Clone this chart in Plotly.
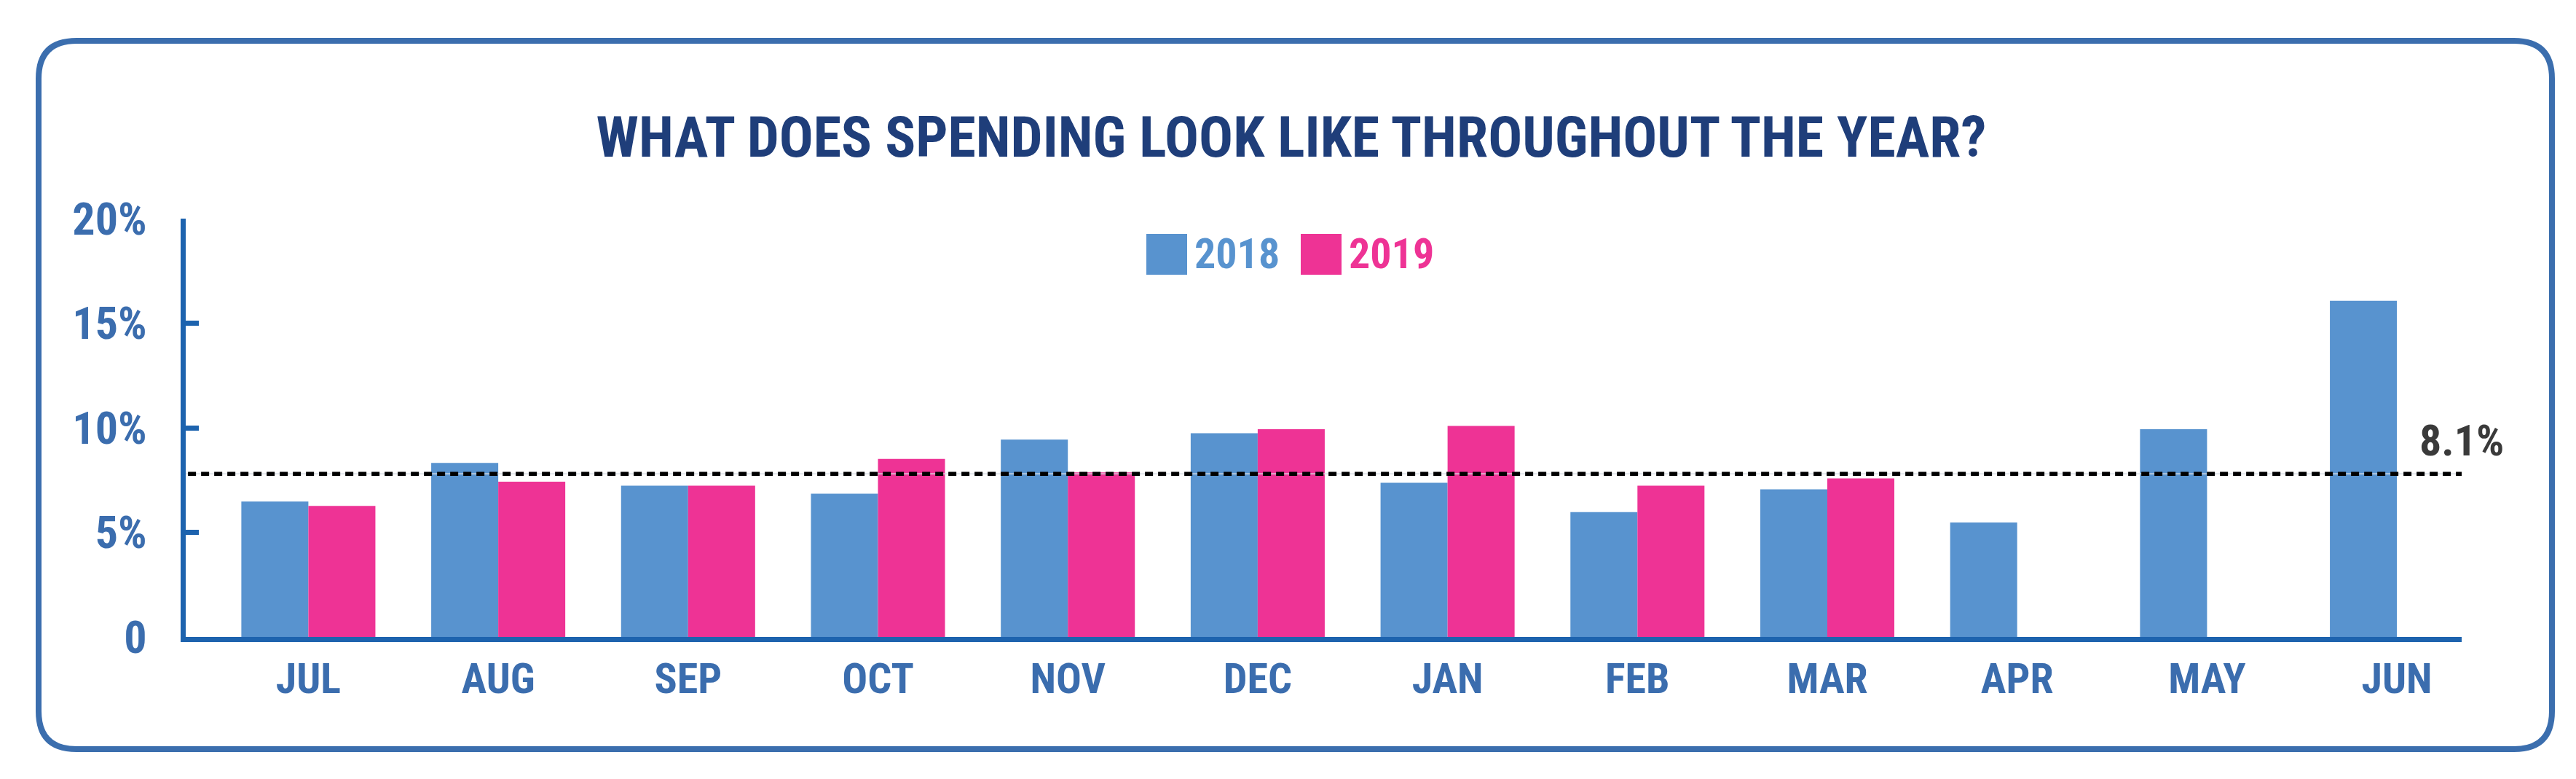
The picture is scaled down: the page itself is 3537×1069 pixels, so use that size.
import plotly.graph_objects as go

# ---------------- data ----------------
MONTHS = ["JUL", "AUG", "SEP", "OCT", "NOV", "DEC", "JAN", "FEB", "MAR", "APR", "MAY", "JUN"]
SPEND_2018 = [6.47, 8.32, 7.23, 6.85, 9.43, 9.74, 7.37, 5.97, 7.06, 5.47, 9.93, 16.07]
SPEND_2019 = [6.26, 7.42, 7.23, 8.51, 7.87, 9.93, 10.09, 7.23, 7.58, None, None, None]
SERIES_NAMES = ["2018", "2019"]
Y_TICK_VALUES = [0, 5, 10, 15, 20]
Y_TICK_LABELS = ["0", "5%", "10%", "15%", "20%"]
AVG_LINE = 7.8
AVG_LABEL = "8.1%"
TITLE = "WHAT DOES SPENDING LOOK LIKE THROUGHOUT THE YEAR?"

# ---------------- styles ----------------
W, H = 3537, 1069
C2018 = "#5893CF"
C2019 = "#EE3395"
AXIS_C = "#1D63AE"
TICK_C = "#3B6DAE"
TITLE_C = "#1F3E7A"
BOX_C = "#3B6EAE"
FONT = "Roboto Condensed, DejaVu Sans Condensed, Arial Narrow, sans-serif"

L, R, T, B = 247, 3372, 292, 866  # plot area in pixels


def px(x):
    return (x - L) / (R - L)


def py(y):
    return (B - y) / (B - T)


fig = go.Figure()
fig.add_trace(go.Bar(x=list(range(len(MONTHS))), y=SPEND_2018, name=SERIES_NAMES[0],
                     marker=dict(color=C2018, line=dict(width=0))))
fig.add_trace(go.Bar(x=list(range(len(MONTHS))), y=SPEND_2019, name=SERIES_NAMES[1],
                     marker=dict(color=C2019, line=dict(width=0))))

shapes = []
# rounded frame
x0, x1, y0, y1, r = px(45), px(3496), py(48), py(1020), 52
rx = r / (R - L)
ry = r / (B - T)
path = (f"M {x0+rx},{y0} L {x1-rx},{y0} Q {x1},{y0} {x1},{y0-ry} "
        f"L {x1},{y1+ry} Q {x1},{y1} {x1-rx},{y1} "
        f"L {x0+rx},{y1} Q {x0},{y1} {x0},{y1+ry} "
        f"L {x0},{y0-ry} Q {x0},{y0} {x0+rx},{y0} Z")
shapes.append(dict(type="path", xref="paper", yref="paper", path=path,
                   line=dict(color=BOX_C, width=8), fillcolor="rgba(0,0,0,0)", layer="below"))
# faint line + dashed average line
shapes.append(dict(type="line", xref="paper", yref="y", x0=0, x1=1, y0=AVG_LINE, y1=AVG_LINE,
                   line=dict(color="#D8DEE6", width=1.5), layer="above"))
shapes.append(dict(type="line", xref="paper", yref="y", x0=0.001, x1=1, y0=AVG_LINE, y1=AVG_LINE,
                   line=dict(color="black", width=5.5, dash="11px,7px"), layer="above"))

# manual legend
annotations = []
legend_items = [(1566, C2018, SERIES_NAMES[0]), (1778, C2019, SERIES_NAMES[1])]
for lx, col, name in legend_items:
    shapes.append(dict(type="rect", xref="paper", yref="paper", x0=px(lx), x1=px(lx + 56),
                       y0=py(313), y1=py(369), fillcolor=col, line=dict(width=0)))
    annotations.append(dict(xref="paper", yref="paper", x=px(lx + 64), y=py(340), text=name,
                            showarrow=False, xanchor="left", yanchor="middle",
                            font=dict(family=FONT, size=58, color=col, weight="bold")))

annotations.append(dict(xref="paper", yref="y", x=1, y=AVG_LINE, text=AVG_LABEL, showarrow=False,
                        xanchor="center", yanchor="bottom", yshift=8,
                        font=dict(family=FONT, size=60, color="#3A3A3A", weight="bold")))

fig.update_layout(
    width=W, height=H,
    margin=dict(l=L, r=W - R, t=T, b=H - B, pad=0),
    paper_bgcolor="white", plot_bgcolor="white",
    showlegend=False,
    barmode="group", bargap=0.294, bargroupgap=0,
    title=dict(text=f"<b>{TITLE}</b>", x=0.499, xanchor="center", xref="container",
               y=1 - 180 / H, yanchor="middle", yref="container",
               font=dict(family=FONT, size=78, color=TITLE_C)),
    shapes=shapes, annotations=annotations,
)
fig.update_xaxes(
    range=[-0.646, 11.341], tickmode="array", tickvals=list(range(len(MONTHS))), ticktext=MONTHS,
    showline=True, linecolor=AXIS_C, linewidth=7, ticks="", showgrid=False, zeroline=False,
    tickfont=dict(family=FONT, size=58, color=TICK_C, weight="bold"), ticklabelstandoff=0,
)
fig.update_yaxes(
    range=[0, 20], tickmode="array", tickvals=Y_TICK_VALUES, ticktext=Y_TICK_LABELS,
    showline=True, linecolor=AXIS_C, linewidth=7, ticks="inside", ticklen=18, tickwidth=7,
    tickcolor=AXIS_C, showgrid=False, zeroline=False,
    tickfont=dict(family=FONT, size=62, color=TICK_C, weight="bold"), ticklabelstandoff=34,
)

fig.write_html("out.html")
